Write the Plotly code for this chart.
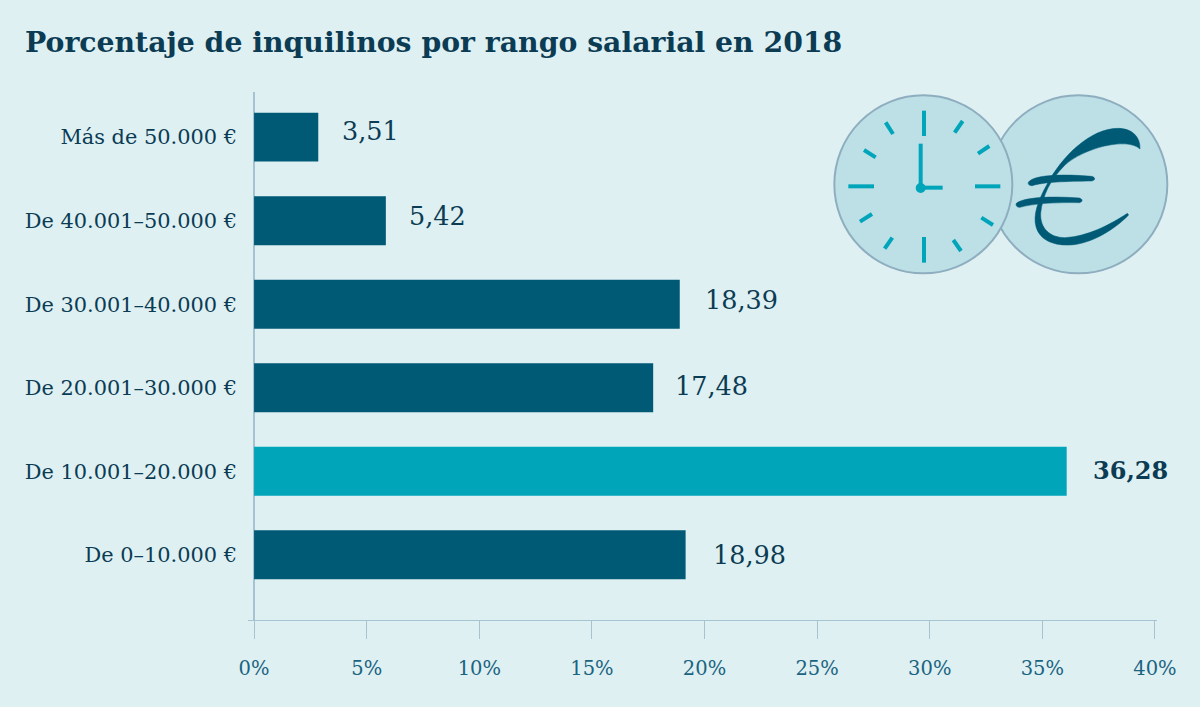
import plotly.graph_objects as go

categories = ["De 0–10.000 €", "De 10.001–20.000 €", "De 20.001–30.000 €",
              "De 30.001–40.000 €", "De 40.001–50.000 €", "Más de 50.000 €"]
bar_values = [19.16, 36.08, 17.72, 18.9, 5.85, 2.85]
value_labels = ["18,98", "36,28", "17,48", "18,39", "5,42", "3,51"]
highlight = "De 10.001–20.000 €"
x_ticks = [0, 5, 10, 15, 20, 25, 30, 35, 40]
x_tick_labels = ["0%", "5%", "10%", "15%", "20%", "25%", "30%", "35%", "40%"]

W, H = 1200, 707
ML, MR, MT, MB = 248, 43, 92, 87
SERIF = "DejaVu Serif"
BG = "#dff0f3"
DARK = "#005a76"
TEAL = "#00a5ba"
INK = "#0b3c54"
AXIS = "#a5c3d0"
LABEL_XSHIFT = [25, 24, 20, 23, 21, 22]
LABEL_YSHIFT = [0, 1, 2, 4, 5, 6]

def px(x):
    return (x - ML) / (W - ML - MR)
def py(y):
    return 1 - (y - MT) / (H - MT - MB)
def zx(x):
    return px(820 + x / 3)
def zy(y):
    return py(85 + y / 3)

def line(x0, y0, x1, y1, color=TEAL, width=4):
    return dict(type="line", xref="paper", yref="paper", layer="above",
                x0=zx(x0), y0=zy(y0), x1=zx(x1), y1=zy(y1),
                line=dict(color=color, width=width))

def circle(cx, cy, r, fill, lc=None, lw=0):
    return dict(type="circle", xref="paper", yref="paper", layer="above",
                x0=zx(cx - r), x1=zx(cx + r), y0=zy(cy - r), y1=zy(cy + r),
                fillcolor=fill, line=dict(color=lc or fill, width=lw))

def blob(cmds):
    parts = []
    for c in cmds:
        nums = " ".join(f"{zx(c[i]):.5f},{zy(c[i + 1]):.5f}" for i in range(1, len(c), 2))
        parts.append(f"{c[0]} {nums}")
    return dict(type="path", xref="paper", yref="paper", layer="above",
                path=" ".join(parts) + " Z", fillcolor=DARK, line=dict(color=DARK, width=0.5))

shapes = [circle(775, 298, 267, "#bde0e7", "#8eaebf", 2),
          circle(310, 298, 267, "#bde0e7", "#8eaebf", 2)]
for seg in [(312, 77, 312, 153), (312, 456, 312, 533), (85, 304, 162, 304), (465, 304, 541, 304),
            (428, 108, 404, 143), (508, 183, 474, 206), (484, 398, 519, 420), (400, 465, 423, 498),
            (217, 458, 194, 491), (156, 387, 120, 410), (132, 195, 167, 217), (197, 112, 219, 147),
            (302, 176, 302, 308), (302, 308, 368, 308)]:
    shapes.append(line(*seg))
shapes.append(circle(302, 309, 15, TEAL))
shapes.append(blob([("M", 960, 192),
                    ("C", 962, 155, 935, 130, 895, 130),
                    ("C", 810, 130, 725, 215, 680, 300),
                    ("C", 655, 345, 638, 390, 648, 425),
                    ("C", 660, 468, 705, 482, 750, 480),
                    ("C", 815, 477, 885, 432, 926, 390),
                    ("L", 922, 385),
                    ("C", 870, 420, 800, 455, 735, 458),
                    ("C", 690, 458, 660, 430, 662, 385),
                    ("C", 668, 330, 690, 285, 735, 240),
                    ("C", 790, 190, 920, 155, 960, 192)]))
shapes.append(blob([("M", 625, 292),
                    ("C", 640, 270, 720, 266, 815, 274),
                    ("C", 827, 277, 827, 286, 815, 288),
                    ("C", 740, 289, 670, 291, 637, 302),
                    ("C", 628, 303, 623, 298, 625, 292)]))
shapes.append(blob([("M", 589, 355),
                    ("C", 610, 336, 700, 333, 778, 339),
                    ("C", 789, 342, 789, 351, 778, 353),
                    ("C", 700, 352, 640, 356, 600, 367),
                    ("C", 591, 368, 586, 361, 589, 355)]))

colors = [TEAL if c == highlight else DARK for c in categories]
fig = go.Figure(go.Bar(x=bar_values, y=categories, orientation="h",
                       marker=dict(color=colors, line=dict(width=0)), width=0.586))

annotations = [dict(x=v, y=c, text=f"<b>{t}</b>" if c == highlight else t, xref="x", yref="y",
                    xanchor="left", yanchor="middle", xshift=dx, yshift=dy, showarrow=False,
                    font=dict(family=SERIF, size=24 if c == highlight else 25.5, color=INK))
               for c, v, t, dx, dy in zip(categories, bar_values, value_labels, LABEL_XSHIFT, LABEL_YSHIFT)]

fig.update_layout(
    width=W, height=H, autosize=False, paper_bgcolor=BG, plot_bgcolor=BG,
    margin=dict(l=ML, r=MR, t=MT, b=MB), showlegend=False,
    title=dict(text="<b>Porcentaje de inquilinos por rango salarial en 2018</b>",
               x=25 / W, xanchor="left", y=1 - 42 / H, yanchor="middle",
               font=dict(family=SERIF, size=28.3, color=INK)),
    xaxis=dict(range=[-0.27, 40.09], tickmode="array", tickvals=x_ticks, ticktext=x_tick_labels,
               showgrid=False, showline=True, linecolor=AXIS, linewidth=1.3,
               ticks="outside", ticklen=18, tickwidth=1.3, tickcolor=AXIS,
               zeroline=True, zerolinecolor=AXIS, zerolinewidth=1.6, ticklabelstandoff=12,
               tickfont=dict(family=SERIF, size=19.5, color="#1a6481")),
    yaxis=dict(type="category", categoryorder="array", categoryarray=categories,
               range=[-0.78, 5.54], showgrid=False, showline=False, zeroline=False,
               ticks="", ticklabelstandoff=10,
               tickfont=dict(family=SERIF, size=20.9, color=INK)),
    annotations=annotations, shapes=shapes,
)
fig.write_html("out.html", config=dict(displayModeBar=False),
               post_script=f"document.body.style.margin='0';document.body.style.background='{BG}';document.documentElement.style.overflow='hidden';")
